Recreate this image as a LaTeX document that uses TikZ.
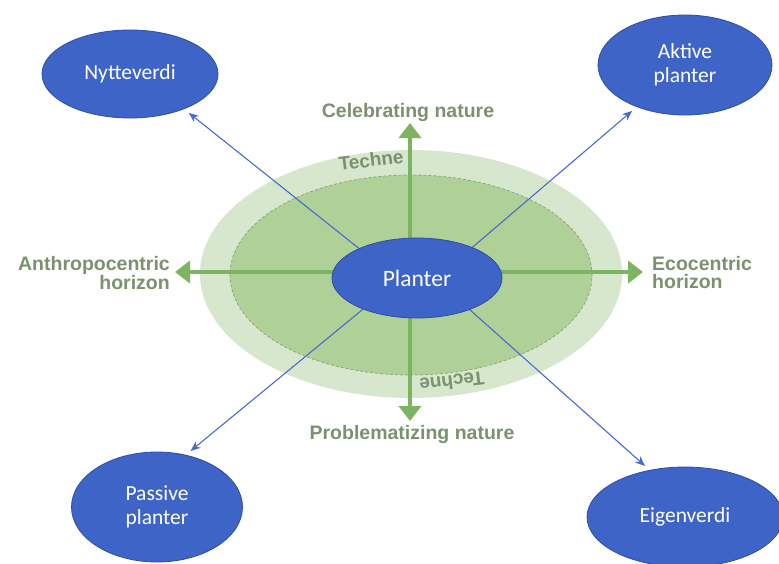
\documentclass[tikz,border=0pt]{standalone}
\usepackage{fontspec}
\setmainfont{Carlito}
\newfontfamily\labfont{Liberation Sans}
\usetikzlibrary{arrows.meta,shapes.geometric}
\pgfdeclarelayer{bg}
\pgfsetlayers{bg,main}
\definecolor{outerG}{RGB}{215,231,205}
\definecolor{innerG}{RGB}{175,209,152}
\definecolor{dashG}{RGB}{140,168,124}
\definecolor{arrG}{RGB}{124,180,98}
\definecolor{labG}{RGB}{122,146,110}
\definecolor{blueF}{RGB}{62,100,200}
\definecolor{blueD}{RGB}{45,78,165}
\definecolor{blueL}{RGB}{72,108,205}
\begin{document}
\begin{tikzpicture}[x=1pt,y=-1pt,
  blob/.style={ellipse, draw=blueD, line width=0.8pt, fill=blueF, text=white,
    inner sep=0pt, align=center, font=\fontsize{21.5}{24}\selectfont},
  lab/.style={text=labG, font=\labfont\bfseries\fontsize{19.5}{18}\selectfont, inner sep=0pt},
  garrow/.style={draw=arrG, line width=4.5pt, -{Triangle[width=22pt,length=15pt]}},
  barrow/.style={draw=blueL, line width=1.1pt, -{Stealth[length=10pt,width=8pt]}, shorten >=6pt}]
\useasboundingbox (0,0) rectangle (779,563);

% labels
\node[lab] (cel) at (408,112) {Celebrating nature};
\node[lab] (prob) at (412,434) {Problematizing nature};
\node[lab, align=right, anchor=east] (anth) at (170,273) {Anthropocentric\\horizon};
\node[lab, align=left, anchor=west] (eco) at (652,273) {Ecocentric\\horizon};
\node[lab, font=\labfont\bfseries\fontsize{19}{18}\selectfont, rotate=7] (t1) at (371,160) {Techne};
\node[lab, font=\labfont\bfseries\fontsize{19}{18}\selectfont, rotate=187] (t2) at (452,382) {Techne};

% nodes
\node[blob, minimum width=170pt, minimum height=80pt, font=\fontsize{23.5}{26}\selectfont] (pl) at (417,278) {Planter};
\node[blob, minimum width=176pt, minimum height=88pt] (ny) at (130,74) {Nytteverdi};
\node[blob, minimum width=174pt, minimum height=100pt] (ak) at (685,65) {Aktive\\planter};
\node[blob, minimum width=171pt, minimum height=110pt] (pa) at (157,507) {Passive\\planter};
\node[blob, minimum width=196pt, minimum height=100pt] (ei) at (685,517) {Eigenverdi};

\coordinate (c) at (410,272);
\coordinate (tipN) at (410,123);
\coordinate (tipS) at (410,421);
\coordinate (tipW) at (175,272);
\coordinate (tipE) at (643,272);

\begin{pgfonlayer}{bg}
  \fill[white] (0,0) rectangle (779,563);
  \fill[outerG] (411,274) ellipse [x radius=211pt, y radius=124pt];
  \fill[innerG] (411,275) ellipse [x radius=181pt, y radius=100pt];
  \draw[dashG, line width=0.8pt, dash pattern=on 3pt off 2pt] (411,275) ellipse [x radius=181pt, y radius=100pt];
  \draw[garrow] (c) -- (tipN);
  \draw[garrow] (c) -- (tipS);
  \draw[garrow] (c) -- (tipW);
  \draw[garrow] (c) -- (tipE);
  \draw[barrow] (pl.153) -- (ny.-33);
  \draw[barrow] (pl.29) -- (ak.221);
  \draw[barrow] (pl.-150) -- (pa.61);
  \draw[barrow] (pl.-31) -- (ei.127);
\end{pgfonlayer}
\end{tikzpicture}
\end{document}
